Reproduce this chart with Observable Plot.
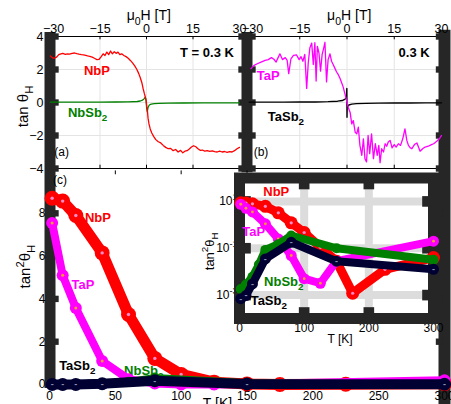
<!DOCTYPE html>
<html><head><meta charset="utf-8">
<script src="https://cdn.jsdelivr.net/npm/d3@7"></script>
<script src="https://cdn.jsdelivr.net/npm/@observablehq/plot@0.6"></script>
<style>
body{margin:0;background:#fff;}
#fig{position:relative;width:451px;height:404px;overflow:hidden;background:#fff;}
</style></head>
<body><div id="fig"></div>
<script>
// ---------- tick labels ----------
const fieldTicks = [-30, -15, 0, 15, 30];
const tanTicks = [-4, -2, 0, 2, 4];
const tempTicks = [0, 50, 100, 150, 200, 250, 300];
const tan2Ticks = [0, 2, 4, 6, 8];
const insetTempTicks = [0, 100, 200, 300];
const insetLogTicks = [1e-3, 1e-1, 1e1];

// ---------- (a) field sweeps at 0.3 K ----------
const B_NbP = [-31,-30.4,-29.8,-29,-28.3,-27.6,-27,-26.2,-25.5,-24.8,-24,-23.2,-22.5,-21.8,-21,-20.3,-19.6,-19,-18.3,-17.5,-16.8,-16,-15.3,-14.6,-14,-13.4,-12.8,-12.2,-11.6,-11,-10.4,-9.8,-9.2,-8.6,-8,-7.3,-6.6,-5.9,-5.2,-4.5,-3.8,-3.1,-2.5,-2,-1.5,-1.1,-0.7,-0.4,-0.1,0.1,0.3,0.5,0.8,1.2,1.7,2.3,3,3.8,4.6,5.4,6.2,7,7.8,8.6,9.4,10.2,11,11.7,12.4,13.1,13.8,14.5,15.2,15.9,16.6,17.3,18,18.8,19.6,20.4,21.2,22,22.8,23.6,24.4,25.2,26,26.8,27.6,28.4,29.2,30];
const tan_NbP = [2.82,2.72,2.68,2.75,2.9,2.95,2.98,2.92,2.95,2.93,2.98,3.0,2.96,2.93,2.9,2.88,2.85,2.82,2.8,2.75,2.68,2.6,2.62,2.78,2.95,2.85,3.05,2.9,3.12,2.95,3.08,2.98,3.05,2.9,2.95,2.85,2.78,2.68,2.55,2.4,2.22,2.0,1.75,1.5,1.2,0.85,0.55,0.35,0.1,-0.25,-0.5,-0.95,-1.3,-1.6,-1.85,-2.05,-2.25,-2.38,-2.45,-2.6,-2.72,-2.8,-2.78,-2.92,-2.85,-3.0,-2.9,-3.05,-2.95,-2.92,-2.82,-2.7,-2.62,-2.68,-2.8,-2.9,-2.88,-2.95,-2.92,-2.96,-2.93,-2.98,-3.0,-2.95,-3.0,-2.97,-3.02,-2.98,-3.0,-2.92,-2.8,-2.72];
const B_NbSb2 = [-31,-25,-20,-15,-10,-6,-3,-2,-1.3,-0.8,-0.4,-0.15,0.05,0.25,0.5,0.9,1.5,2.5,4,7,12,18,25,30];
const tan_NbSb2 = [0.02,0.02,0.025,0.02,0.03,0.04,0.06,0.09,0.14,0.22,0.32,0.15,-0.35,-0.55,-0.3,-0.15,-0.1,-0.07,-0.05,-0.04,-0.03,-0.02,-0.02,-0.02];

// ---------- (b) field sweeps at 0.3 K ----------
const B_TaP = [-30.5,-29.5,-28.5,-27.3,-26,-25,-24,-23.2,-22.5,-21.8,-21.3,-20.5,-19.6,-19,-18.5,-17.8,-17,-16,-15.2,-14.6,-14,-13.4,-12.8,-12.3,-11.8,-11.2,-10.7,-10.2,-9.8,-9.4,-8.9,-8.4,-7.9,-7.4,-7.0,-6.5,-6.0,-5.4,-4.9,-4.4,-3.9,-3.3,-2.8,-2.2,-1.7,-1.2,-0.7,-0.1,0.4,1.0,1.5,2.0,2.6,3.1,3.6,4.1,4.7,5.2,5.7,6.2,6.7,7.2,7.8,8.4,9.0,9.6,10.1,10.5,11.0,11.6,12.1,12.6,13.1,13.7,14.3,15.0,15.6,16.3,17.0,17.7,18.4,19.0,19.5,20.1,20.6,21.4,22.2,23.2,24.0,24.8,25.8,26.8,27.5,28.5,29.3,30];
const tan_TaP = [2.05,2.25,2.35,2.45,2.55,2.6,2.72,2.62,2.45,2.75,2.95,2.6,2.72,2.55,1.75,2.65,2.85,2.88,2.6,2.78,2.5,2.92,0.85,2.4,3.3,3.6,2.3,3.62,1.3,3.4,3.0,1.9,2.9,3.3,3.65,1.25,2.6,2.95,2.5,2.3,2.1,1.85,1.7,1.45,1.2,0.93,0.55,0.1,-0.3,-0.6,-1.3,-1.1,-1.8,-1.9,-1.5,-2.6,-3.2,-2.2,-3.4,-3.6,-2.0,-3.1,-1.9,-3.4,-2.5,-3.2,-2.6,-3.65,-2.8,-3.0,-2.5,-2.65,-2.4,-2.3,-2.75,-2.55,-2.7,-2.5,-2.6,-2.2,-1.6,-2.3,-2.6,-2.75,-2.8,-2.55,-2.45,-2.95,-2.8,-2.7,-2.65,-2.55,-2.5,-2.35,-2.2,-2.0];
const B_TaSb2 = [-31,-25,-20,-15,-10,-6,-3,-1.5,-0.6,-0.2,-0.05,0,0.05,0.2,0.6,1.5,3,6,10,15,20,25,30];
const tan_TaSb2 = [0.02,0.02,0.02,0.03,0.03,0.05,0.08,0.12,0.2,0.3,0.85,-0.9,-0.35,-0.25,-0.15,-0.1,-0.07,-0.05,-0.04,-0.03,-0.03,-0.02,-0.02];

// ---------- (c) tan^2 theta_H vs T ----------
const T_NbP = [2,10,20,40,60,80,100,125,150,175,225,300];
const tan2_NbP = [8.7,8.57,7.9,6.15,3.27,1.22,0.47,0.11,0.028,0.0012,0.0126,0.04];
const T_TaP = [2,10,20,40,60,80,100,125,150,300];
const tan2_TaP = [7.55,5.1,3.57,1.1,0.25,0.049,0.005,0.0032,0.028,0.2];
const T_NbSb2 = [2,10,20,30,40,60,80,150,300];
const tan2_NbSb2 = [0.0018,0.0028,0.006,0.02,0.085,0.15,0.35,0.1,0.032];
const T_TaSb2 = [2,10,20,40,80,150,300];
const tan2_TaSb2 = [0.0007,0.00095,0.003,0.035,0.18,0.028,0.0126];

// ---------- helpers ----------
const W = 451, H = 404;
const dark = "#262626";
const RED = "#ff0000", MAG = "#ff00ff", GRN = "#008000", NAVY = "#000033";
const FONT = "'Liberation Sans', Arial, Helvetica, sans-serif";
const style = `position:absolute;left:0;top:0;background:transparent;overflow:visible;font-family:${FONT};font-size:12px;color:#000;`;
const rows = (xs, ys) => xs.map((x, i) => ({x, y: ys[i]}));
const fig = document.getElementById("fig");

function richify(svg) {
  svg.querySelectorAll("text").forEach(t => {
    const s = t.textContent;
    if (!/[_^]\{/.test(s)) return;
    const fs = parseFloat(getComputedStyle(t).fontSize) || 12;
    while (t.firstChild) t.removeChild(t.firstChild);
    const re = /([_^])\{([^}]*)\}|([^_^]+)/g;
    let m, shift = 0;
    while ((m = re.exec(s))) {
      const ts = document.createElementNS("http://www.w3.org/2000/svg", "tspan");
      let target, txt;
      if (m[3] !== undefined) { txt = m[3]; target = 0; }
      else {
        txt = m[2];
        target = m[1] === "_" ? fs * 0.32 : -fs * 0.42;
        ts.setAttribute("font-size", (fs * 0.75).toFixed(1));
      }
      ts.setAttribute("dy", (target - shift).toFixed(2));
      shift = target;
      ts.textContent = txt;
      t.appendChild(ts);
    }
  });
}
function add(svg) { fig.appendChild(svg); richify(svg); }

function series(data, color, sw, r, dotColor, dotR) {
  const m = [
    Plot.line(data, {x: "x", y: "y", stroke: color, strokeWidth: sw, strokeLinejoin: "round", strokeLinecap: "round"}),
    Plot.dot(data, {x: "x", y: "y", r, fill: color})
  ];
  if (dotColor) m.push(Plot.dot(data, {x: "x", y: "y", r: dotR, fill: dotColor}));
  return m;
}
function dashes(data, color) {
  return Plot.text(data, {x: "x", y: "y", text: () => "-", fill: color, fontSize: 9, fontWeight: "bold"});
}
const lbl = (x, y, text, o = {}) => Plot.text([0], {x: () => x, y: () => y, text: () => text, fontSize: 13, ...o});

// ---------- (c) main panel (bottom layer) ----------
const cNbP = rows(T_NbP, tan2_NbP), cTaP = rows(T_TaP, tan2_TaP);
const cNbSb2 = rows(T_NbSb2, tan2_NbSb2), cTaSb2 = rows(T_TaSb2, tan2_TaSb2);
const tFirst = tempTicks[0], tMid = tempTicks[3], tLast = tempTicks[tempTicks.length - 1];

add(Plot.plot({
  width: W, height: H, style,
  marginLeft: 49, marginRight: 7, marginTop: 170, marginBottom: 20,
  x: {domain: [0, 300], axis: null},
  y: {domain: [0, 10], axis: null},
  marks: [
    // thick frame bars of the figure
    Plot.ruleX([tFirst], {y1: -0.19, y2: 16.45, stroke: dark, strokeWidth: 11, dx: 0.5}),
    Plot.ruleX([tMid], {y1: 9.9, y2: 16.45, stroke: dark, strokeWidth: 11}),
    Plot.ruleX([tLast], {y1: -1, y2: 16.55, stroke: dark, strokeWidth: 12}),
    Plot.dot(tan2Ticks, {x: tFirst, y: d => d, symbol: "square", r: 3.6, fill: dark, dx: 6}),
    Plot.dot(tan2Ticks, {x: tLast, y: d => d, symbol: "square", r: 3.6, fill: dark, dx: -5.5}),
    Plot.ruleX(tempTicks.slice(1, 4), {y1: 9.98, y2: 9.8, stroke: "#000"}),
    Plot.axisY({anchor: "left", ticks: tan2Ticks, tickSize: 0, tickPadding: 4, label: null, fontSize: 12}),
    Plot.axisX({anchor: "bottom", ticks: tempTicks, tickSize: 0, tickPadding: 7, label: null, fontSize: 12}),
    lbl(127.6, -0.87, "T [K]", {fontSize: 14}),
    lbl(-18.2, 5.51, "tan^{2}θ_{H}", {fontSize: 15, rotate: -90}),
    lbl(8, 9.53, "(c)", {fontSize: 12}),
    lbl(36.8, 7.78, "NbP", {fill: RED, fontWeight: "bold"}),
    lbl(25.4, 4.65, "TaP", {fill: MAG, fontWeight: "bold"}),
    lbl(21.1, 0.86, "TaSb_{2}", {fill: "#000", fontWeight: "bold"}),
    lbl(71.6, 0.65, "NbSb_{2}", {fill: GRN, fontWeight: "bold"}),
    ...series(cNbP, RED, 11, 7.5, "#ff8cc8", 1.7),
    ...series(cTaP, MAG, 8, 6, "#ff9a30", 1.5),
    ...series(cNbSb2, GRN, 6, 4.5, null),
    ...series(cTaSb2, NAVY, 10, 6.5, null),
    dashes(cTaSb2, "#8a90b0")
  ]
}));

// ---------- inset (log scale) ----------
add(Plot.plot({
  width: W, height: H, style,
  marginLeft: 239, marginRight: 18, marginTop: 177.5, marginBottom: 86,
  x: {domain: [0, 300], axis: null},
  y: {type: "log", domain: [1e-4, 1e2], axis: null},
  marks: [
    Plot.frame({fill: "white"}),
    Plot.ruleX(insetTempTicks.slice(1, 3), {stroke: "#dcdcdc", strokeWidth: 8}),
    Plot.ruleY(insetLogTicks, {stroke: "#dcdcdc", strokeWidth: 8}),
    Plot.axisY({anchor: "left", ticks: insetLogTicks, tickSize: 0, tickPadding: 2, label: null, fontSize: 12,
      tickFormat: d => `10^{${Math.round(Math.log10(d))}}`}),
    Plot.axisX({anchor: "bottom", ticks: insetTempTicks, tickSize: 0, tickPadding: 5, label: null, fontSize: 12}),
    Plot.frame({stroke: dark, strokeWidth: 11}),
    Plot.dot(insetTempTicks.slice(1, 3), {x: d => d, y: 1e2, symbol: "square", r: 6, fill: dark, dy: 6}),
    Plot.dot(insetTempTicks.slice(1, 3), {x: d => d, y: 1e-4, symbol: "square", r: 6, fill: dark, dy: -6}),
    Plot.dot(insetLogTicks, {x: 0, y: d => d, symbol: "square", r: 6, fill: dark, dx: 6}),
    Plot.dot(insetLogTicks, {x: 300, y: d => d, symbol: "square", r: 6, fill: dark, dx: -6}),
    lbl(155.4, 1.3e-5, "T [K]", {fontSize: 12}),
    lbl(-46.4, 0.074, "tan^{2}θ_{H}", {fontSize: 13, rotate: -90}),
    ...series(cNbP, RED, 9, 6.5, "#ff8cc8", 1.6),
    ...series(cTaP, MAG, 8, 5.5, "#ff9a30", 1.4),
    ...series(cNbSb2, GRN, 8, 5, null),
    ...series(cTaSb2, NAVY, 8, 5.5, null),
    dashes(cTaSb2, "#8a90b0"),
    lbl(56.9, 25, "NbP", {fill: RED, fontWeight: "bold"}),
    lbl(22.1, 0.49, "TaP", {fill: MAG, fontWeight: "bold"}),
    lbl(68.5, 0.0038, "NbSb_{2}", {fill: GRN, fontWeight: "bold"}),
    lbl(45.3, 5.5e-4, "TaSb_{2}", {fill: "#000", fontWeight: "bold"})
  ]
}));

// ---------- (a) ----------
const aNbP = rows(B_NbP, tan_NbP), aNbSb2 = rows(B_NbSb2, tan_NbSb2);
const inner = a => a.slice(1, a.length - 1);
function fieldPanel(ml, mr, lines, labels, leftLabels) {
  return Plot.plot({
    width: W, height: H, style,
    marginLeft: ml, marginRight: mr, marginTop: 36, marginBottom: 236,
    x: {domain: [-30, 30], axis: null},
    y: {domain: [-4, 4], axis: null},
    marks: [
      Plot.ruleX(inner(fieldTicks), {stroke: "#e4e4e4"}),
      Plot.ruleY(inner(tanTicks), {stroke: "#e4e4e4"}),
      Plot.ruleY([tanTicks[0], tanTicks[tanTicks.length - 1]], {stroke: "#000"}),
      Plot.ruleX(inner(fieldTicks), {y1: 4, y2: 3.8, stroke: "#000"}),
      Plot.ruleX(inner(fieldTicks), {y1: -4, y2: -3.8, stroke: "#000"}),
      Plot.axisX({anchor: "top", ticks: fieldTicks, tickSize: 0, tickPadding: 4, label: null, fontSize: 12.5}),
      leftLabels ? Plot.axisY({anchor: "left", ticks: tanTicks, tickSize: 0, tickPadding: 10, label: null, fontSize: 12.5}) : null,
      ...lines,
      ...labels
    ].filter(Boolean)
  });
}
add(fieldPanel(53, 212, [
  Plot.dot(tanTicks, {x: -30, y: d => d, symbol: "square", r: 3.6, fill: dark, dx: 2}),
  Plot.dot(tanTicks, {x: 30, y: d => d, symbol: "square", r: 3.6, fill: dark, dx: 2}),
  Plot.line(aNbSb2, {x: "x", y: "y", stroke: GRN, strokeWidth: 1.3}),
  Plot.line(aNbP, {x: "x", y: "y", stroke: RED, strokeWidth: 1.3})
], [
  lbl(0.75, 5.27, "μ_{0}H [T]", {fontSize: 14}),
  lbl(-39.7, -0.24, "tan θ_{H}", {fontSize: 15, rotate: -90}),
  lbl(-16.0, 1.94, "NbP", {fill: RED, fontWeight: "bold"}),
  lbl(-19.0, -0.64, "NbSb_{2}", {fill: GRN, fontWeight: "bold"}),
  lbl(19.5, 3.03, "T = 0.3 K", {fontWeight: "bold"}),
  lbl(-27.4, -3.0, "(a)", {fontSize: 12})
], true));

// ---------- (b) ----------
const bTaP = rows(B_TaP, tan_TaP), bTaSb2 = rows(B_TaSb2, tan_TaSb2);
add(fieldPanel(252, 10, [
  Plot.dot(tanTicks, {x: -30, y: d => d, symbol: "square", r: 3.6, fill: dark}),
  Plot.dot(tanTicks, {x: 30, y: d => d, symbol: "square", r: 3.6, fill: dark, dx: -2.5}),
  Plot.line(bTaSb2, {x: "x", y: "y", stroke: "#000", strokeWidth: 1.4}),
  Plot.line(bTaP, {x: "x", y: "y", stroke: MAG, strokeWidth: 1.3})
], [
  lbl(0.7, 5.27, "μ_{0}H [T]", {fontSize: 14}),
  lbl(-25, 1.59, "TaP", {fill: MAG, fontWeight: "bold"}),
  lbl(-19.4, -0.85, "TaSb_{2}", {fill: "#000", fontWeight: "bold"}),
  lbl(21.3, 3.03, "0.3 K", {fontWeight: "bold"}),
  lbl(-27.3, -3.0, "(b)", {fontSize: 12})
], false));
</script>
</body></html>
